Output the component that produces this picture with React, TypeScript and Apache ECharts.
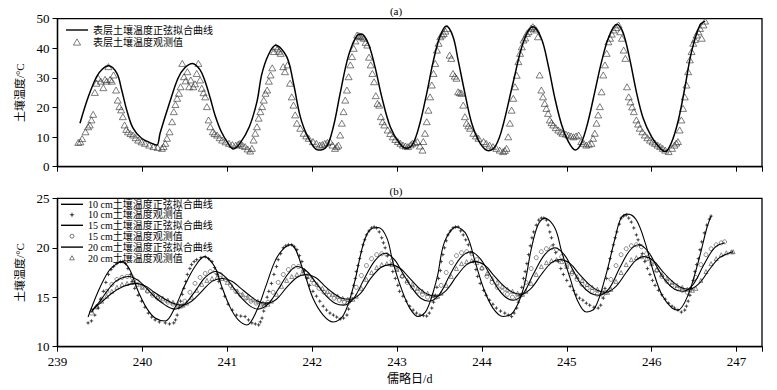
import React, { useEffect, useRef } from "react";
import * as echarts from "echarts";

// ---------- Data ----------
// x: Julian day, y: soil temperature (°C)

const fitSurface: number[][] = [
  [239.265,14.7],[239.363,23.6],[239.46,30.4],[239.53,33.0],[239.60,34.1],[239.70,31.5],[239.756,25.9],[239.815,19.2],[239.89,13.0],[239.99,9.6],[240.11,7.9],[240.17,7.3],[240.21,11.5],[240.325,22.0],[240.42,29.9],[240.50,33.4],[240.59,34.9],[240.68,32.7],[240.74,28.7],[240.80,23.1],[240.855,17.5],[240.93,11.8],[241.01,7.9],[241.07,6.0],[241.15,7.9],[241.26,13.5],[241.35,22.0],[241.405,31.0],[241.48,37.5],[241.57,41.0],[241.70,37.2],[241.78,28.2],[241.86,16.9],[241.95,10.1],[242.07,5.6],[242.17,6.8],[242.25,13.5],[242.33,24.8],[242.425,37.2],[242.52,43.9],[242.58,44.8],[242.66,41.7],[242.74,33.8],[242.82,23.6],[242.92,13.5],[243.03,7.9],[243.11,6.2],[243.19,7.9],[243.27,14.7],[243.35,24.8],[243.43,36.0],[243.505,43.9],[243.58,47.5],[243.66,43.9],[243.72,36.0],[243.80,24.8],[243.88,14.7],[243.98,7.9],[244.08,5.4],[244.17,7.5],[244.25,14.1],[244.37,28.7],[244.49,42.2],[244.60,47.3],[244.70,43.4],[244.78,34.4],[244.86,23.1],[244.94,14.1],[245.02,8.4],[245.10,5.6],[245.17,7.9],[245.25,15.2],[245.33,25.3],[245.41,35.5],[245.49,43.4],[245.59,48.1],[245.66,45.6],[245.74,36.6],[245.82,25.3],[245.90,16.4],[246.00,10.1],[246.10,6.2],[246.16,5.1],[246.23,7.9],[246.31,15.2],[246.39,26.5],[246.47,38.9],[246.57,47.9],[246.63,49.2]
];

const obsSurface: number[][] = [
  [239.245,8.2],[239.27,8.4],[239.29,9.5],[239.33,11.8],[239.36,13.5],[239.38,14.1],[239.40,15.8],[239.42,17.7],[239.44,25.1],[239.46,28.2],[239.48,29.9],[239.51,28.9],[239.54,26.7],[239.56,29.5],[239.58,28.9],[239.60,33.8],[239.62,29.5],[239.64,28.9],[239.66,31.0],[239.69,25.9],[239.71,22.5],[239.73,20.3],[239.75,19.2],[239.77,16.9],[239.79,14.1],[239.81,12.6],[239.83,11.8],[239.86,11.2],[239.89,10.7],[239.92,9.8],[239.95,9.0],[239.99,8.4],[240.03,7.9],[240.08,7.3],[240.13,6.8],[240.18,6.5],[240.23,6.2],[240.25,6.8],
  [240.27,7.9],[240.29,9.6],[240.32,11.8],[240.35,15.2],[240.37,18.6],[240.39,21.0],[240.41,23.1],[240.43,24.8],[240.45,27.0],[240.47,34.9],[240.49,30.4],[240.51,29.0],[240.53,32.1],[240.55,27.0],[240.57,29.3],[240.60,27.0],[240.62,28.0],[240.64,31.5],[240.66,34.9],[240.68,29.3],[240.70,26.5],[240.72,25.0],[240.74,23.6],[240.76,20.3],[240.78,15.8],[240.80,13.5],[240.83,11.8],[240.85,11.2],[240.88,10.7],[240.91,9.8],[240.94,9.0],[240.98,8.4],[241.02,7.9],[241.06,7.5],[241.10,7.3],[241.13,7.6],[241.15,7.9],[241.18,7.2],[241.21,6.8],[241.24,6.0],[241.27,5.3],[241.29,6.2],
  [241.31,9.0],[241.33,11.3],[241.35,13.5],[241.37,16.4],[241.39,18.6],[241.41,20.3],[241.43,22.5],[241.45,24.8],[241.47,25.9],[241.49,28.9],[241.51,31.0],[241.53,33.4],[241.55,38.9],[241.57,40.5],[241.59,39.8],[241.61,39.0],[241.63,38.3],[241.66,33.8],[241.68,32.1],[241.71,34.4],[241.74,28.2],[241.76,23.6],[241.78,20.8],[241.80,17.5],[241.82,14.7],[241.86,13.0],[241.90,11.3],[241.93,10.4],[241.96,9.6],[242.01,8.5],[242.05,7.9],[242.09,7.3],[242.12,7.5],[242.15,7.9],[242.18,8.2],[242.21,8.5],[242.24,7.3],[242.27,6.2],[242.29,6.8],[242.31,7.3],
  [242.33,10.7],[242.35,14.7],[242.37,18.6],[242.39,22.5],[242.41,25.9],[242.43,30.4],[242.45,34.4],[242.47,37.2],[242.49,40.0],[242.51,42.5],[242.53,44.5],[242.55,44.3],[242.57,44.0],[242.59,43.8],[242.61,43.4],[242.63,42.0],[242.65,41.1],[242.67,37.0],[242.69,34.4],[242.71,31.5],[242.73,28.7],[242.75,24.0],[242.77,21.4],[242.79,20.8],[242.81,16.9],[242.83,15.2],[242.85,14.1],[242.89,12.4],[242.92,11.2],[242.95,10.1],[242.98,9.2],[243.01,8.5],[243.04,7.9],[243.07,7.3],[243.10,7.0],[243.13,6.8],[243.16,7.4],[243.18,7.9],[243.21,8.2],[243.24,8.5],[243.27,7.0],[243.30,5.6],
  [243.31,8.5],[243.33,11.3],[243.35,15.2],[243.37,19.1],[243.39,23.6],[243.41,27.6],[243.43,31.5],[243.45,34.9],[243.47,39.4],[243.49,41.7],[243.51,43.9],[243.53,44.5],[243.55,45.0],[243.57,45.8],[243.59,46.7],[243.62,37.7],[243.64,36.6],[243.66,31.5],[243.68,30.6],[243.70,29.9],[243.72,25.3],[243.74,25.0],[243.76,24.8],[243.78,20.8],[243.80,16.9],[243.82,14.7],[243.84,13.8],[243.86,13.0],[243.90,11.3],[243.93,10.4],[243.96,9.6],[244.02,8.5],[244.05,7.9],[244.09,7.3],[244.13,6.8],[244.17,6.2],[244.21,5.6],[244.25,5.1],[244.27,5.5],[244.29,6.2],
  [244.31,10.1],[244.33,14.7],[244.35,19.1],[244.37,23.1],[244.39,27.0],[244.41,30.9],[244.43,35.5],[244.45,38.3],[244.47,40.5],[244.49,42.8],[244.51,43.5],[244.53,45.0],[244.55,45.6],[244.58,46.8],[244.60,47.3],[244.62,46.8],[244.64,46.2],[244.66,43.9],[244.68,31.0],[244.70,25.9],[244.72,23.6],[244.74,21.4],[244.76,19.7],[244.78,18.0],[244.80,15.8],[244.82,14.9],[244.84,14.1],[244.87,13.2],[244.90,12.4],[244.93,11.8],[244.95,11.3],[244.99,11.0],[245.02,10.7],[245.05,10.4],[245.08,10.1],[245.11,10.4],[245.14,10.7],[245.17,8.5],[245.20,7.9],[245.23,7.3],[245.26,7.6],[245.29,7.9],
  [245.31,9.6],[245.33,11.3],[245.35,14.7],[245.37,17.5],[245.39,20.3],[245.41,25.3],[245.43,31.0],[245.45,34.4],[245.47,38.3],[245.49,42.2],[245.51,43.4],[245.53,44.8],[245.55,46.2],[245.58,47.0],[245.61,47.9],[245.63,45.6],[245.65,43.4],[245.67,39.4],[245.69,36.6],[245.71,27.0],[245.73,23.6],[245.75,21.9],[245.77,20.2],[245.79,18.6],[245.82,15.8],[245.84,14.4],[245.86,13.0],[245.89,11.8],[245.92,10.7],[245.95,9.8],[245.98,9.0],[246.01,8.4],[246.04,7.9],[246.07,7.3],[246.10,6.8],[246.13,6.2],[246.16,5.6],[246.20,5.1],[246.24,6.2],[246.27,7.3],[246.29,8.0],
  [246.31,8.5],[246.33,12.4],[246.35,15.8],[246.37,19.7],[246.39,23.6],[246.41,27.6],[246.43,32.1],[246.45,36.1],[246.47,38.9],[246.49,41.7],[246.51,43.0],[246.53,44.5],[246.55,45.6],[246.57,46.7],[246.59,43.4],[246.61,47.9],[246.63,49.2]
];

const fit10: number[][] = [
  [239.36,13.0],[239.48,15.6],[239.60,17.6],[239.70,18.4],[239.76,18.6],[239.85,17.8],[239.95,15.6],[240.05,13.9],[240.15,12.9],[240.27,12.6],[240.38,13.9],[240.50,16.2],[240.62,18.1],[240.73,19.1],[240.85,18.1],[240.93,16.2],[241.03,14.05],[241.13,12.7],[241.23,12.2],[241.35,13.7],[241.45,16.0],[241.56,18.6],[241.66,19.9],[241.75,20.3],[241.90,17.6],[242.01,14.9],[242.13,13.2],[242.25,12.5],[242.37,13.2],[242.49,16.2],[242.60,20.3],[242.68,21.8],[242.78,22.05],[242.88,21.0],[242.95,18.6],[243.05,15.9],[243.15,13.9],[243.25,13.05],[243.35,13.7],[243.47,16.9],[243.56,20.6],[243.70,22.1],[243.82,21.3],[243.92,18.6],[244.02,15.9],[244.13,13.9],[244.25,13.05],[244.37,13.5],[244.49,15.9],[244.58,19.8],[244.66,22.3],[244.74,23.0],[244.86,22.0],[244.94,19.6],[245.04,16.9],[245.13,14.6],[245.23,13.5],[245.33,13.9],[245.45,16.9],[245.57,21.0],[245.64,23.0],[245.72,23.4],[245.82,22.8],[245.92,20.6],[246.02,17.6],[246.12,15.25],[246.24,13.9],[246.31,13.7],[246.43,15.25],[246.55,18.6],[246.65,22.0],[246.70,23.2]
];

const obs10: number[][] = [
  [239.36,12.4],[239.40,12.6],[239.44,13.2],[239.48,13.9],[239.51,14.8],[239.54,15.6],[239.57,16.5],[239.60,17.3],[239.63,17.8],[239.66,18.1],[239.70,18.4],[239.74,18.6],[239.77,18.6],[239.80,18.4],[239.83,17.9],[239.86,17.3],[239.88,16.6],[239.91,15.9],[239.95,15.2],[239.99,14.6],[240.03,14.0],[240.07,13.4],[240.11,13.0],[240.15,12.7],[240.20,12.5],[240.27,12.4],[240.32,12.3],[240.37,12.4],[240.39,12.7],[240.41,13.2],[240.43,13.9],[240.45,14.6],[240.47,15.3],[240.49,15.9],[240.51,16.6],[240.53,17.3],[240.56,17.9],[240.58,18.3],[240.61,18.6],[240.64,18.8],[240.69,19.0],[240.74,19.1],[240.78,18.9],[240.82,18.6],[240.85,18.0],[240.88,17.3],[240.90,16.6],[240.93,15.9],[240.97,15.1],[241.01,14.3],[241.06,13.7],[241.11,13.2],[241.16,13.1],[241.21,13.05],[241.25,12.7],[241.29,12.4],[241.33,12.3],[241.37,12.2],[241.39,12.5],[241.41,12.9],[241.43,13.6],[241.45,14.3],[241.47,15.0],[241.49,15.6],[241.52,16.4],[241.55,17.3],[241.58,18.1],[241.60,18.8],[241.63,19.4],[241.66,20.0],[241.69,20.2],[241.72,20.3],[241.76,20.3],[241.79,20.1],[241.82,19.8],[241.85,19.2],[241.88,18.6],[241.91,17.7],[241.94,16.9],[241.97,16.2],[242.01,15.6],[242.05,15.1],[242.09,14.6],[242.13,14.1],[242.17,13.7],[242.21,13.4],[242.25,13.2],[242.29,13.0],[242.33,12.8],[242.37,12.9],[242.41,13.2],[242.43,13.8],[242.45,14.6],[242.47,15.4],[242.49,16.2],[242.51,16.9],[242.52,17.6],[242.54,18.2],[242.56,18.9],[242.58,19.6],[242.60,20.3],[242.62,20.8],[242.64,21.3],[242.67,21.7],[242.70,22.0],[242.73,22.1],[242.76,22.0],[242.79,21.6],[242.82,21.0],[242.84,20.5],[242.86,20.0],[242.89,19.2],[242.92,18.3],[242.95,17.6],[242.98,16.9],[243.01,16.2],[243.03,15.6],[243.07,15.1],[243.11,14.6],[243.15,14.1],[243.19,13.7],[243.23,13.4],[243.27,13.2],[243.31,13.15],[243.35,13.1],[243.38,13.4],[243.41,13.9],[243.43,14.5],[243.45,15.2],[243.47,16.0],[243.49,16.9],[243.51,17.7],[243.52,18.6],[243.54,19.3],[243.56,20.0],[243.58,20.7],[243.60,21.3],[243.63,21.7],[243.66,22.0],[243.69,22.1],[243.72,22.1],[243.75,21.7],[243.78,21.3],[243.81,20.8],[243.84,20.3],[243.87,19.5],[243.90,18.6],[243.93,17.8],[243.95,17.1],[243.98,16.4],[244.02,15.7],[244.05,15.2],[244.09,14.7],[244.13,14.3],[244.17,13.9],[244.22,13.6],[244.27,13.4],[244.31,13.2],[244.35,13.05],[244.38,13.4],[244.41,13.9],[244.43,14.5],[244.45,15.2],[244.47,16.0],[244.49,16.9],[244.51,17.6],[244.53,18.4],[244.55,19.3],[244.57,20.2],[244.59,21.0],[244.61,21.6],[244.64,22.3],[244.67,22.8],[244.70,23.0],[244.73,23.0],[244.76,22.8],[244.78,22.3],[244.80,21.6],[244.82,21.0],[244.84,20.3],[244.87,19.5],[244.90,18.6],[244.93,17.9],[244.96,17.3],[245.00,16.7],[245.04,16.1],[245.08,15.7],[245.11,15.25],[245.15,14.9],[245.19,14.7],[245.23,14.4],[245.27,14.2],[245.32,14.0],[245.37,13.9],[245.40,14.2],[245.43,14.9],[245.45,15.9],[245.47,16.9],[245.49,17.9],[245.51,18.9],[245.53,19.6],[245.55,20.3],[245.57,21.0],[245.59,21.6],[245.62,22.4],[245.64,23.0],[245.67,23.2],[245.70,23.3],[245.73,23.0],[245.76,22.6],[245.79,22.0],[245.82,21.3],[245.84,20.8],[245.86,20.3],[245.89,19.4],[245.92,18.6],[245.95,17.9],[245.98,17.3],[246.01,16.7],[246.04,16.2],[246.08,15.7],[246.12,15.25],[246.16,14.8],[246.20,14.4],[246.24,14.1],[246.27,13.9],[246.31,13.7],[246.35,13.5],[246.39,13.7],[246.41,14.1],[246.43,14.6],[246.45,15.2],[246.47,15.9],[246.49,16.7],[246.51,17.6],[246.53,18.3],[246.55,18.9],[246.57,19.8],[246.59,20.6],[246.62,21.5],[246.65,22.3],[246.68,22.9],[246.70,23.2]
];

const fit15: number[][] = [
  [239.40,13.5],[239.50,14.6],[239.60,15.8],[239.70,16.7],[239.84,17.1],[239.95,16.7],[240.05,15.9],[240.15,15.0],[240.27,14.2],[240.38,13.8],[240.50,14.3],[240.62,15.6],[240.74,17.0],[240.86,17.6],[240.97,17.1],[241.07,16.0],[241.17,14.9],[241.27,14.1],[241.36,13.8],[241.48,14.3],[241.60,15.8],[241.72,17.4],[241.82,18.1],[241.94,17.6],[242.05,16.4],[242.16,15.2],[242.27,14.4],[242.37,14.2],[242.49,14.9],[242.61,16.8],[242.74,18.7],[242.86,19.45],[242.97,18.8],[243.07,17.4],[243.18,15.9],[243.28,14.9],[243.38,14.6],[243.50,15.3],[243.62,17.2],[243.75,19.0],[243.87,19.6],[243.98,18.9],[244.08,17.5],[244.18,16.0],[244.28,15.0],[244.37,14.7],[244.49,15.4],[244.61,17.4],[244.74,19.3],[244.86,20.0],[244.97,19.3],[245.07,17.8],[245.17,16.3],[245.28,15.4],[245.38,15.2],[245.50,15.9],[245.62,17.9],[245.74,19.7],[245.85,20.3],[245.96,19.6],[246.06,18.1],[246.16,16.7],[246.27,15.8],[246.37,15.6],[246.49,16.3],[246.61,18.2],[246.74,20.0],[246.86,20.5]
];

const obs15: number[][] = [
  [239.40,13.4],[239.46,14.0],[239.52,14.8],[239.58,15.6],[239.64,16.3],[239.70,16.8],[239.76,17.0],[239.82,17.1],[239.88,17.0],[239.94,16.6],[240.00,16.1],[240.06,15.6],[240.12,15.2],[240.18,14.9],[240.24,14.7],[240.30,14.5],[240.36,14.3],[240.42,14.1],[240.46,14.1],[240.50,14.6],[240.56,15.5],[240.62,16.4],[240.68,17.0],[240.74,17.4],[240.80,17.6],[240.86,17.6],[240.92,17.3],[240.98,16.8],[241.04,16.2],[241.10,15.6],[241.16,15.2],[241.22,14.9],[241.28,14.6],[241.34,14.4],[241.40,14.2],[241.44,14.1],[241.48,14.5],[241.54,15.5],[241.60,16.5],[241.66,17.3],[241.72,17.8],[241.78,18.1],[241.84,18.1],[241.90,17.7],[241.96,17.1],[242.02,16.4],[242.08,15.9],[242.14,15.5],[242.20,15.2],[242.26,14.9],[242.32,14.7],[242.38,14.5],[242.42,14.4],[242.46,14.8],[242.52,16.0],[242.58,17.2],[242.64,18.2],[242.70,18.9],[242.76,19.3],[242.82,19.4],[242.88,19.3],[242.94,18.7],[243.00,17.9],[243.06,17.1],[243.12,16.5],[243.18,16.0],[243.24,15.6],[243.30,15.3],[243.36,15.0],[243.42,14.8],[243.46,15.0],[243.52,16.2],[243.58,17.5],[243.64,18.5],[243.70,19.2],[243.76,19.5],[243.82,19.6],[243.88,19.4],[243.94,18.8],[244.00,17.9],[244.06,17.1],[244.12,16.5],[244.18,16.0],[244.24,15.6],[244.30,15.3],[244.36,15.0],[244.42,14.9],[244.46,15.2],[244.52,16.5],[244.58,17.9],[244.64,19.0],[244.70,19.6],[244.76,19.9],[244.82,20.0],[244.88,19.8],[244.94,19.1],[245.00,18.2],[245.06,17.4],[245.12,16.8],[245.18,16.3],[245.24,15.9],[245.30,15.6],[245.36,15.3],[245.42,15.2],[245.46,15.5],[245.52,16.8],[245.58,18.2],[245.64,19.3],[245.70,19.9],[245.76,20.2],[245.82,20.3],[245.88,20.1],[245.94,19.4],[246.00,18.5],[246.06,17.7],[246.12,17.1],[246.18,16.6],[246.24,16.2],[246.30,15.9],[246.36,15.7],[246.42,15.5],[246.46,15.8],[246.52,17.0],[246.58,18.3],[246.64,19.3],[246.70,19.9],[246.76,20.3],[246.82,20.5],[246.86,20.6]
];

const fit20: number[][] = [
  [239.40,13.7],[239.52,14.5],[239.64,15.4],[239.78,16.1],[239.92,16.4],[240.04,16.1],[240.14,15.5],[240.25,14.9],[240.36,14.4],[240.46,14.2],[240.58,14.6],[240.70,15.6],[240.82,16.6],[240.94,16.9],[241.06,16.6],[241.16,15.9],[241.26,15.2],[241.36,14.6],[241.46,14.4],[241.58,14.8],[241.70,16.0],[241.82,17.0],[241.92,17.3],[242.04,17.0],[242.14,16.2],[242.25,15.4],[242.35,14.9],[242.45,14.8],[242.57,15.4],[242.69,16.9],[242.81,18.0],[242.92,18.3],[243.04,17.9],[243.14,17.0],[243.25,16.0],[243.36,15.3],[243.46,15.1],[243.58,15.7],[243.70,17.1],[243.82,18.3],[243.92,18.6],[244.04,18.2],[244.14,17.2],[244.25,16.2],[244.36,15.5],[244.46,15.3],[244.58,15.9],[244.70,17.3],[244.82,18.5],[244.92,18.8],[245.04,18.4],[245.14,17.4],[245.25,16.4],[245.36,15.7],[245.46,15.5],[245.58,16.1],[245.70,17.5],[245.81,18.7],[245.91,19.1],[246.02,18.7],[246.12,17.7],[246.23,16.7],[246.34,16.0],[246.44,15.8],[246.56,16.4],[246.68,17.8],[246.80,19.0],[246.92,19.5],[246.96,19.6]
];

const obs20: number[][] = [
  [239.40,13.7],[239.46,14.1],[239.52,14.6],[239.58,15.1],[239.64,15.6],[239.70,16.0],[239.76,16.3],[239.82,16.4],[239.88,16.5],[239.94,16.3],[240.00,16.0],[240.06,15.7],[240.12,15.4],[240.18,15.1],[240.24,14.9],[240.30,14.7],[240.36,14.5],[240.42,14.3],[240.48,14.2],[240.52,14.4],[240.58,15.0],[240.64,15.7],[240.70,16.3],[240.76,16.7],[240.82,16.9],[240.88,17.0],[240.94,16.9],[241.00,16.5],[241.06,16.0],[241.12,15.6],[241.18,15.3],[241.24,15.0],[241.30,14.8],[241.36,14.6],[241.42,14.4],[241.48,14.3],[241.52,14.6],[241.58,15.3],[241.64,16.1],[241.70,16.7],[241.76,17.1],[241.82,17.3],[241.88,17.4],[241.94,17.2],[242.00,16.8],[242.06,16.3],[242.12,15.9],[242.18,15.6],[242.24,15.3],[242.30,15.1],[242.36,14.9],[242.42,14.8],[242.48,14.8],[242.52,15.1],[242.58,15.9],[242.64,16.8],[242.70,17.5],[242.76,18.0],[242.82,18.3],[242.88,18.4],[242.94,18.3],[243.00,17.8],[243.06,17.2],[243.12,16.7],[243.18,16.3],[243.24,15.9],[243.30,15.6],[243.36,15.4],[243.42,15.2],[243.48,15.1],[243.52,15.4],[243.58,16.2],[243.64,17.1],[243.70,17.9],[243.76,18.4],[243.82,18.6],[243.88,18.7],[243.94,18.5],[244.00,18.0],[244.06,17.4],[244.12,16.9],[244.18,16.5],[244.24,16.1],[244.30,15.8],[244.36,15.6],[244.42,15.4],[244.48,15.3],[244.52,15.6],[244.58,16.4],[244.64,17.3],[244.70,18.1],[244.76,18.5],[244.82,18.7],[244.88,18.8],[244.94,18.6],[245.00,18.1],[245.06,17.6],[245.12,17.1],[245.18,16.7],[245.24,16.3],[245.30,16.0],[245.36,15.8],[245.42,15.6],[245.48,15.5],[245.52,15.8],[245.58,16.6],[245.64,17.5],[245.70,18.3],[245.76,18.8],[245.82,19.0],[245.88,19.1],[245.94,18.9],[246.00,18.4],[246.06,17.8],[246.12,17.3],[246.18,16.9],[246.24,16.5],[246.30,16.2],[246.36,16.0],[246.42,15.8],[246.48,15.7],[246.52,15.9],[246.58,16.7],[246.64,17.6],[246.70,18.4],[246.76,18.9],[246.82,19.3],[246.88,19.5],[246.94,19.6],[246.96,19.6]
];

const seriesNamesTop = ["表层土壤温度正弦拟合曲线", "表层土壤温度观测值"];
const seriesNamesBottom = [
  "10 cm土壤温度正弦拟合曲线",
  "10 cm土壤温度观测值",
  "15 cm土壤温度正弦拟合曲线",
  "15 cm土壤温度观测值",
  "20 cm土壤温度正弦拟合曲线",
  "20 cm土壤温度观测值",
];
const xTickRange = [239, 247.3];
const yTopRange = [0, 50, 10];
const yBottomRange = [10, 25, 5];
const yName = "土壤温度/°C";
const xName = "儒略日/d";

const FONT = "'Liberation Serif', 'Noto Sans CJK SC', serif";
const STAR = "path://M0,-10L2.8,-2.8L10,0L2.8,2.8L0,10L-2.8,2.8L-10,0L-2.8,-2.8Z";

// legend icons (padded with move-to points so the glyph stays small inside the legend box)
const ICON_LINE = "path://M0,0H30V1.9H0Z";
const ICON_TRI_BIG = "path://M-5,-5M5,5M0,-3.2L3.6,3L-3.6,3Z";
const ICON_STAR = "path://M-5,-5M5,5M0,-2.6L0.75,-0.75L2.6,0L0.75,0.75L0,2.6L-0.75,0.75L-2.6,0L-0.75,-0.75Z";
const ICON_CIRCLE = "path://M-5,-5M5,5M2,0A2,2,0,1,1,-2,0A2,2,0,1,1,2,0Z";
const ICON_TRI_SMALL = "path://M-5,-5M5,5M0,-2.3L2.3,1.9L-2.3,1.9Z";

export default function App() {
  const ref = useRef<HTMLDivElement>(null);
  useEffect(() => {
    if (!ref.current) return;
    const chart = echarts.init(ref.current, undefined, { renderer: "svg" });
    const axisLine = { show: true, lineStyle: { color: "#000", width: 1.3 } };
    const axisTick = { show: true, length: 5, inside: false, lineStyle: { color: "#000", width: 1 } };
    const xBase = (grid: number, labels: boolean) => ({
      gridIndex: grid,
      type: "value",
      min: xTickRange[0],
      max: xTickRange[1],
      interval: 1,
      axisLine,
      axisTick,
      splitLine: { show: false },
      axisLabel: {
        show: labels,
        fontSize: 13,
        color: "#000",
        fontFamily: FONT,
        margin: 8,
        formatter: (v: number) => (Number.isInteger(v) ? String(v) : ""),
      },
    });
    const yBase = (grid: number, r: number[]) => ({
      gridIndex: grid,
      type: "value",
      min: r[0],
      max: r[1],
      interval: r[2],
      axisLine,
      axisTick,
      splitLine: { show: false },
      axisLabel: { fontSize: 13, color: "#000", fontFamily: FONT, margin: 8 },
      name: yName,
      nameLocation: "middle",
      nameRotate: 90,
      nameGap: 27,
      nameTextStyle: { fontSize: 11, color: "#000", fontFamily: FONT },
    });
    const fitLine = (name: string, data: number[][], grid: number, width: number) => ({
      name,
      type: "line",
      xAxisIndex: grid,
      yAxisIndex: grid,
      data,
      symbol: "none",
      smooth: 0.35,
      lineStyle: { color: "#000", width },
      itemStyle: { color: "#000" },
      z: 4,
      silent: true,
    });
    const hollow = { color: "rgba(255,255,255,0)", borderColor: "#333", borderWidth: 0.8 };
    const legendBase = {
      orient: "vertical",
      padding: 0,
      itemWidth: 22,
      itemHeight: 10,
      selectedMode: false,
      symbolKeepAspect: true,
      textStyle: { fontSize: 10, color: "#000", fontFamily: FONT },
    };
    const option: any = {
      animation: false,
      backgroundColor: "#fff",
      textStyle: { fontFamily: FONT },
      grid: [
        { left: 57.5, right: 15, top: 18.7, height: 148, show: true, borderColor: "#000", borderWidth: 1.3, backgroundColor: "transparent" },
        { left: 57.5, right: 15, top: 198.3, height: 148.4, show: true, borderColor: "#000", borderWidth: 1.3, backgroundColor: "transparent" },
      ],
      xAxis: [
        xBase(0, false),
        { ...xBase(1, true), name: xName, nameLocation: "middle", nameGap: 26, nameTextStyle: { fontSize: 12, color: "#000", fontFamily: FONT } },
      ],
      yAxis: [yBase(0, yTopRange), yBase(1, yBottomRange)],
      legend: [
        {
          ...legendBase,
          left: 66,
          top: 25,
          itemGap: 1.7,
          data: [
            { name: seriesNamesTop[0], icon: ICON_LINE },
            { name: seriesNamesTop[1], icon: ICON_TRI_BIG, itemStyle: hollow },
          ],
        },
        {
          ...legendBase,
          left: 61,
          top: 199.3,
          itemGap: 0.5,
          data: [
            { name: seriesNamesBottom[0], icon: ICON_LINE },
            { name: seriesNamesBottom[1], icon: ICON_STAR },
            { name: seriesNamesBottom[2], icon: ICON_LINE },
            { name: seriesNamesBottom[3], icon: ICON_CIRCLE, itemStyle: hollow },
            { name: seriesNamesBottom[4], icon: ICON_LINE },
            { name: seriesNamesBottom[5], icon: ICON_TRI_SMALL, itemStyle: hollow },
          ],
        },
      ],
      graphic: [
        { type: "text", x: 396, y: 11, style: { text: "(a)", font: "11px " + FONT, fill: "#000", textAlign: "center", textVerticalAlign: "middle" } },
        { type: "text", x: 396, y: 191, style: { text: "(b)", font: "11px " + FONT, fill: "#000", textAlign: "center", textVerticalAlign: "middle" } },
      ],
      series: [
        fitLine(seriesNamesTop[0], fitSurface, 0, 1.5),
        {
          name: seriesNamesTop[1],
          type: "scatter",
          xAxisIndex: 0,
          yAxisIndex: 0,
          data: obsSurface,
          symbol: "triangle",
          symbolSize: [7, 6],
          itemStyle: hollow,
          z: 3,
          silent: true,
        },
        fitLine(seriesNamesBottom[0], fit10, 1, 1.1),
        {
          name: seriesNamesBottom[1],
          type: "scatter",
          xAxisIndex: 1,
          yAxisIndex: 1,
          data: obs10,
          symbol: STAR,
          symbolSize: 4.5,
          itemStyle: { color: "#111" },
          z: 3,
          silent: true,
        },
        fitLine(seriesNamesBottom[2], fit15, 1, 1.1),
        {
          name: seriesNamesBottom[3],
          type: "scatter",
          xAxisIndex: 1,
          yAxisIndex: 1,
          data: obs15,
          symbol: "circle",
          symbolSize: 4,
          itemStyle: { ...hollow, borderWidth: 0.7 },
          z: 3,
          silent: true,
        },
        fitLine(seriesNamesBottom[4], fit20, 1, 1.1),
        {
          name: seriesNamesBottom[5],
          type: "scatter",
          xAxisIndex: 1,
          yAxisIndex: 1,
          data: obs20,
          symbol: "triangle",
          symbolSize: 4,
          itemStyle: { ...hollow, borderWidth: 0.7 },
          z: 3,
          silent: true,
        },
      ],
    };
    chart.setOption(option);
    return () => chart.dispose();
  }, []);
  return (
    <div
      ref={ref}
      style={{ position: "absolute", left: 0, top: 0, width: 777, height: 390, background: "#fff" }}
    />
  );
}
